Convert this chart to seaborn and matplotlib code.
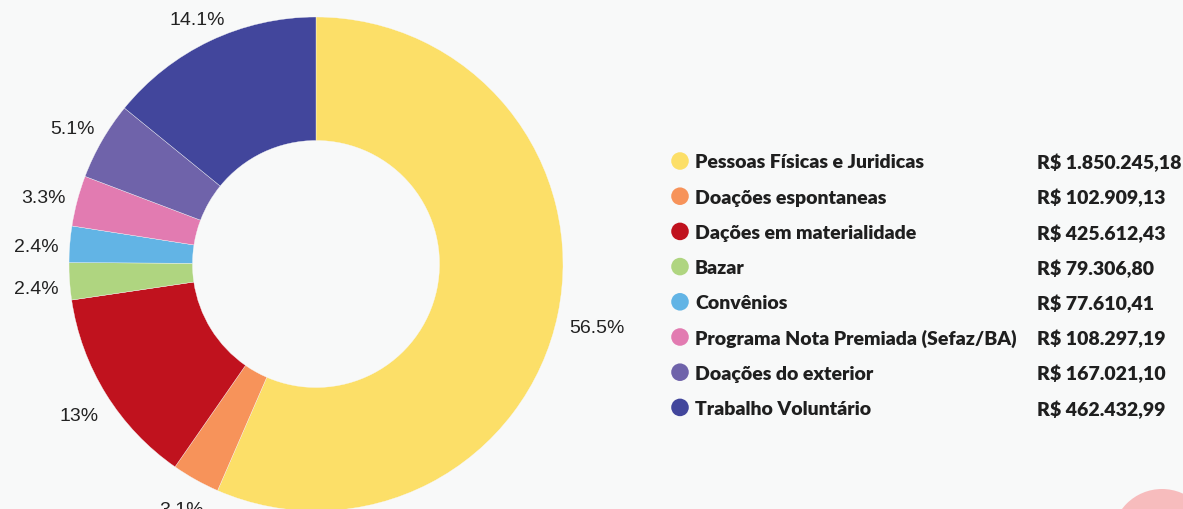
import matplotlib
matplotlib.use("Agg")
import matplotlib.pyplot as plt
from matplotlib.patches import Circle
import numpy as np
import seaborn as sns

categories = ["Pessoas Físicas e Juridicas", "Doações espontaneas", "Dações em materialidade",
              "Bazar", "Convênios", "Programa Nota Premiada (Sefaz/BA)",
              "Doações do exterior", "Trabalho Voluntário"]
values = [1850245.18, 102909.13, 425612.43, 79306.80, 77610.41, 108297.19, 167021.10, 462432.99]
value_labels = ["R$ 1.850.245,18", "R$ 102.909,13", "R$ 425.612,43", "R$ 79.306,80",
                "R$ 77.610,41", "R$ 108.297,19", "R$ 167.021,10", "R$ 462.432,99"]
colors = ["#FCDF68", "#F7935A", "#C0121E", "#AFD580", "#62B4E5", "#E27BB1", "#6F63AA", "#42469C"]

sns.set_theme(style="white")
sns.set_palette(colors)
plt.rcParams['font.family'] = ['Liberation Sans', 'DejaVu Sans']

BG = "#F8F9F9"
W, H = 1183, 510
fig = plt.figure(figsize=(W / 100, H / 100), dpi=100, facecolor=BG)

cx, cy, R = 316, 265, 247
ax = fig.add_axes([(cx - R) / W, (H - cy - R) / H, 2 * R / W, 2 * R / H])
ax.set_facecolor(BG)


def fmt(p):
    s = f"{p:.1f}"
    if s.endswith(".0"):
        s = s[:-2]
    return s + "%"


wedges, texts = ax.pie(values, colors=colors, startangle=90, counterclock=False,
                       radius=1.0, labels=[fmt(v / sum(values) * 100) for v in values],
                       labeldistance=1.15,
                       wedgeprops=dict(width=0.5, edgecolor=BG, linewidth=0.25),
                       textprops=dict(fontsize=14, color="#222222", ha="center", va="center"))
ax.set_xlim(-1, 1)
ax.set_ylim(-1, 1)
ax.set_aspect("equal")
ax.axis("off")
for w in wedges:
    w.set_clip_on(False)

# place labels so that their nearest edge sits a fixed gap outside the ring
renderer = fig.canvas.get_renderer()
gap = 11
shift_down = 5
for t, w in zip(texts, wedges):
    t.set_horizontalalignment("center")
    ang = np.deg2rad((w.theta1 + w.theta2) / 2)
    dx, dy = np.cos(ang), np.sin(ang)
    bb = t.get_window_extent(renderer)
    proj = (bb.width / 2) * abs(dx) + (bb.height / 2 - 1) * abs(dy)
    r_px = R + gap + proj
    t.set_position((dx * r_px / R, (dy * r_px - shift_down) / R))

# legend
lax = fig.add_axes([0, 0, 1, 1], facecolor="none")
lax.set_xlim(0, W)
lax.set_ylim(H, 0)
lax.axis("off")
y0, dy_ = 162, 35.2
ys = [y0 + i * dy_ for i in range(len(categories))]
lax.scatter([680] * len(categories), ys, s=160, c=colors, linewidths=0)
for y, cat, val in zip(ys, categories, value_labels):
    lax.text(695, y + 1, cat, fontsize=14.0, fontweight="heavy", family=["Lato", "DejaVu Sans"],
             color="#1f1f1f", va="center", ha="left")
    lax.text(1037, y + 1, val, fontsize=14.0, fontweight="heavy", family=["Lato", "DejaVu Sans"],
             color="#1f1f1f", va="center", ha="left")

# decorative circle bottom right
lax.add_patch(Circle((1162, 540), 50, color="#F7BCBD", clip_on=True, linewidth=0))

fig.savefig("out.png", dpi=100, facecolor=BG)
